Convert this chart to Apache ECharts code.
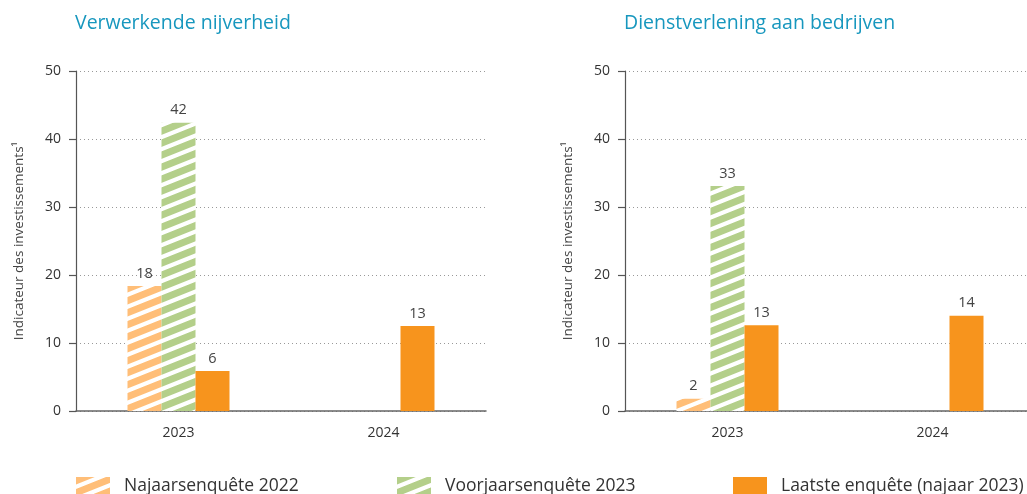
<!DOCTYPE html>
<html>
<head>
<meta charset="utf-8">
<script src="https://cdn.jsdelivr.net/npm/echarts@6/dist/echarts.min.js"></script>
<style>
  html, body { margin: 0; padding: 0; background: #fff; overflow: hidden; }
  #chart { width: 1040px; height: 494px; }
</style>
</head>
<body>
<div id="chart"></div>
<script>
var categories = ['2023', '2024'];
var seriesNames = ['Najaarsenquête 2022', 'Voorjaarsenquête 2023', 'Laatste enquête (najaar 2023)'];

// Verwerkende nijverheid
var industryAutumn22 = [18.4, null];
var industrySpring23 = [42.4, null];
var industryLatest = [5.9, 12.5];

// Dienstverlening aan bedrijven
var servicesAutumn22 = [1.8, null];
var servicesSpring23 = [33.1, null];
var servicesLatest = [12.6, 14.0];

var yTicks = [0, 10, 20, 30, 40, 50];

// diagonale streepjes als canvas patroon
var makeStripes = function(rgb) {
  var w = 30, h = 12, band = 7.5;
  var c = document.createElement('canvas');
  c.width = w; c.height = h;
  var ctx = c.getContext('2d');
  var img = ctx.createImageData(w, h);
  for (var y = 0; y < h; y++) {
    for (var x = 0; x < w; x++) {
      var t = ((y + 0.5 + (x + 0.5) * h / w) % h + h) % h;
      var a;
      if (t < band) {
        a = Math.min(1, Math.min(t, band - t) + 0.5);
      } else {
        a = 1 - Math.min(1, Math.min(t - band, h - t) + 0.5);
      }
      a = Math.max(0, Math.min(1, a));
      var i = (y * w + x) * 4;
      img.data[i] = Math.round(255 + (rgb[0] - 255) * a);
      img.data[i + 1] = Math.round(255 + (rgb[1] - 255) * a);
      img.data[i + 2] = Math.round(255 + (rgb[2] - 255) * a);
      img.data[i + 3] = 255;
    }
  }
  ctx.putImageData(img, 0, 0);
  return { image: c, repeat: 'repeat' };
};

var orangeStripes = makeStripes([255, 190, 120]);
var greenStripes = makeStripes([180, 207, 138]);
var orangeSolid = '#f7941d';
var fills = [orangeStripes, greenStripes, orangeSolid];

var fontFamily = '"Open Sans", "Noto Sans", sans-serif';

var makeXAxis = function(idx) {
  return {
    type: 'category',
    gridIndex: idx,
    data: categories,
    axisLine: { lineStyle: { color: '#666', width: 1.5 } },
    axisTick: { inside: true, length: 9, lineStyle: { color: '#555', width: 1.5 } },
    axisLabel: { color: '#333', fontSize: 14, fontFamily: fontFamily, margin: 15 },
    splitLine: { show: false }
  };
};

var makeYAxis = function(idx) {
  return {
    type: 'value',
    gridIndex: idx,
    min: yTicks[0],
    max: yTicks[yTicks.length - 1],
    interval: 10,
    name: 'Indicateur des investissements\u00b9',
    nameLocation: 'middle',
    nameGap: 50,
    nameTextStyle: { color: '#444', fontSize: 13.5, fontFamily: fontFamily },
    axisLine: { show: true, lineStyle: { color: '#555', width: 1.2 } },
    axisTick: { show: true, length: 7, lineStyle: { color: '#555', width: 1.2 } },
    axisLabel: { color: '#333', fontSize: 14, fontFamily: fontFamily, margin: 15 },
    splitLine: { show: true, lineStyle: { color: '#999', type: [1, 3], width: 1 } }
  };
};

var makeSeries = function(idx, values) {
  return values.map(function(vals, i) {
    return {
      name: seriesNames[i],
      type: 'bar',
      xAxisIndex: idx,
      yAxisIndex: idx,
      data: vals,
      barWidth: 34,
      barGap: '0%',
      itemStyle: { color: fills[i] },
      label: {
        show: true,
        position: 'top',
        distance: 5,
        color: '#444',
        fontSize: 14.5,
        fontFamily: fontFamily,
        formatter: function(p) { return Math.round(p.value); }
      }
    };
  });
};

var legendAt = function(name, left) {
  return {
    data: [name],
    left: left,
    top: 477,
    padding: 0,
    icon: 'rect',
    itemWidth: 34,
    itemHeight: 18,
    itemGap: 14,
    selectedMode: false,
    textStyle: { color: '#333', fontSize: 17.5, fontFamily: fontFamily, padding: [2, 0, 0, 9] }
  };
};

var chart = echarts.init(document.getElementById('chart'));
chart.setOption({
  animation: false,
  title: [
    { text: 'Verwerkende nijverheid', left: 70, top: 8,
      textStyle: { color: '#1797be', fontSize: 19.5, fontWeight: 'normal', fontFamily: fontFamily } },
    { text: 'Dienstverlening aan bedrijven', left: 619, top: 8,
      textStyle: { color: '#1797be', fontSize: 19.5, fontWeight: 'normal', fontFamily: fontFamily } }
  ],
  legend: [
    legendAt(seriesNames[0], 76),
    legendAt(seriesNames[1], 397),
    legendAt(seriesNames[2], 733)
  ],
  grid: [
    { left: 76, top: 71, width: 410, height: 340 },
    { left: 625, top: 71, width: 410, height: 340 }
  ],
  xAxis: [makeXAxis(0), makeXAxis(1)],
  yAxis: [makeYAxis(0), makeYAxis(1)],
  series: makeSeries(0, [industryAutumn22, industrySpring23, industryLatest])
    .concat(makeSeries(1, [servicesAutumn22, servicesSpring23, servicesLatest]))
});
</script>
</body>
</html>
